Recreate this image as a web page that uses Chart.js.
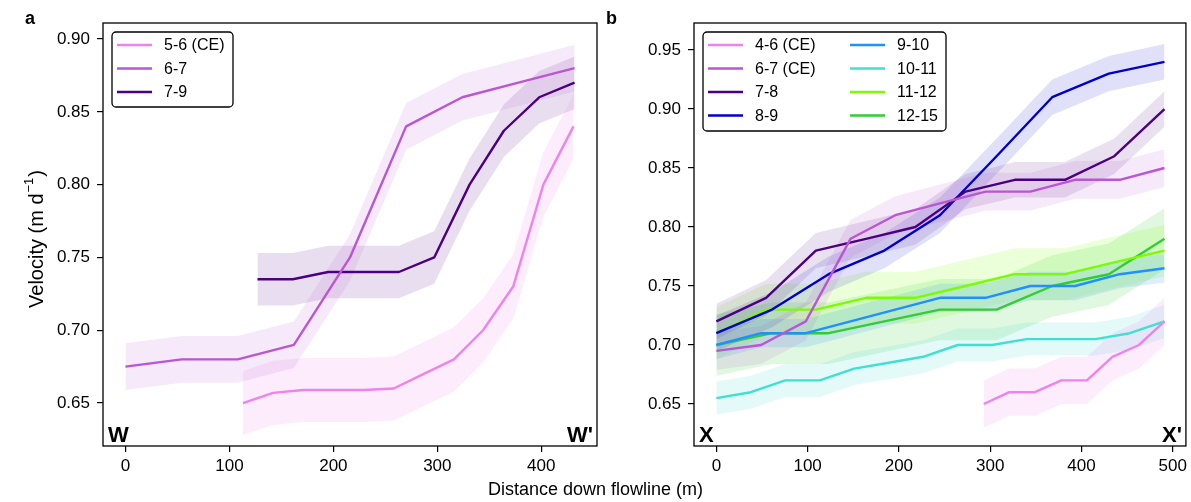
<!DOCTYPE html>
<html>
<head>
<meta charset="utf-8">
<script src="https://cdn.jsdelivr.net/npm/chart.js@4.4.0/dist/chart.umd.min.js"></script>
<style>
  html, body { margin: 0; padding: 0; background: #fff; }
  #wrap { position: relative; width: 1191px; height: 502px; overflow: hidden; }
  #chartA { position: absolute; left: 0; top: 0; }
  #chartB { position: absolute; left: 600px; top: 0; }
  #xtitle { position: absolute; left: 0; top: 479px; width: 1191px; text-align: center;
            font: 18px "Liberation Sans", Arial, sans-serif; line-height: 20px; color: #000; }
</style>
</head>
<body>
<div id="wrap">
  <canvas id="chartA" width="600" height="502"></canvas>
  <canvas id="chartB" width="591" height="502"></canvas>
  <div id="xtitle">Distance down flowline (m)</div>
</div>
<script>
// ---- panel a (W - W') ----
const distA56 = [113, 142, 171, 200, 229, 258, 287, 316, 344, 373, 402, 431];
const velA56  = [0.650, 0.657, 0.659, 0.659, 0.659, 0.660, 0.670, 0.680, 0.700, 0.730, 0.800, 0.840];
const distA67 = [0, 54, 108, 162, 216, 270, 324, 378, 432];
const velA67  = [0.675, 0.680, 0.680, 0.690, 0.750, 0.840, 0.860, 0.870, 0.880];
const distA79 = [127, 161, 195, 229, 263, 297, 331, 364, 398, 432];
const velA79  = [0.735, 0.735, 0.740, 0.740, 0.740, 0.750, 0.800, 0.837, 0.860, 0.870];
const labelsA = ['5-6 (CE)', '6-7', '7-9'];
const errA    = [0.022, 0.016, 0.018];   // half width of the shaded band

// ---- panel b (X - X') ----
const distB46   = [293, 321, 349, 378, 406, 434, 463, 491];
const velB46    = [0.650, 0.660, 0.660, 0.670, 0.670, 0.690, 0.700, 0.720];
const distB67   = [0, 49, 98, 147, 196, 245, 295, 344, 393, 442, 491];
const velB67    = [0.695, 0.700, 0.720, 0.790, 0.810, 0.820, 0.830, 0.830, 0.840, 0.840, 0.850];
const distB78   = [0, 54.5, 109, 164, 218, 273, 327, 382, 436, 491];
const velB78    = [0.720, 0.740, 0.780, 0.790, 0.800, 0.830, 0.840, 0.840, 0.860, 0.900];
const distB89   = [0, 61, 123, 184, 245, 307, 368, 430, 491];
const velB89    = [0.710, 0.730, 0.760, 0.780, 0.810, 0.860, 0.910, 0.930, 0.940];
const distB910  = [0, 49, 98, 147, 196, 245, 295, 344, 393, 442, 491];
const velB910   = [0.700, 0.710, 0.710, 0.720, 0.730, 0.740, 0.740, 0.750, 0.750, 0.760, 0.765];
const distB1011 = [0, 37.8, 75.5, 113.3, 151, 188.8, 226.6, 264.4, 302, 340, 377.7, 415.5, 453, 491];
const velB1011  = [0.655, 0.660, 0.670, 0.670, 0.680, 0.685, 0.690, 0.700, 0.700, 0.705, 0.705, 0.705, 0.710, 0.720];
const distB1112 = [0, 54.5, 109, 164, 218, 273, 327, 382, 436, 491];
const velB1112  = [0.710, 0.730, 0.730, 0.740, 0.740, 0.750, 0.760, 0.760, 0.770, 0.780];
const distB1215 = [0, 61, 123, 184, 245, 307, 368, 430, 491];
const velB1215  = [0.700, 0.710, 0.710, 0.720, 0.730, 0.730, 0.750, 0.760, 0.790];
const labelsB = ['4-6 (CE)', '6-7 (CE)', '7-8', '8-9', '9-10', '10-11', '11-12', '12-15'];
const errB    = [0.020, 0.016, 0.015, 0.015, 0.012, 0.014, 0.022, 0.026];

const ticksA = [0.65, 0.70, 0.75, 0.80, 0.85, 0.90];
const ticksB = [0.65, 0.70, 0.75, 0.80, 0.85, 0.90, 0.95];
const xTicksA = [0, 100, 200, 300, 400];
const xTicksB = [0, 100, 200, 300, 400, 500];

const colors = {
  violet: '#ee82ee', orchid: '#ba55d3', indigo: '#4b0082', blue: '#0000cd',
  dodger: '#1e90ff', turq: '#40e0d0', lawn: '#7cfc00', lime: '#32cd32'
};

function hexA(hex, a) {
  const n = parseInt(hex.slice(1), 16);
  return `rgba(${n >> 16},${(n >> 8) & 255},${n & 255},${a})`;
}

// lower edge, upper edge (filled to lower), then the line itself
function buildDatasets(series) {
  const out = [];
  series.forEach(s => {
    const lowIdx = out.length;
    out.push({
      data: s.dist.map((d, i) => ({ x: d, y: s.vel[i] - s.err })),
      borderWidth: 0, pointRadius: 0, fill: false, order: 2
    });
    out.push({
      data: s.dist.map((d, i) => ({ x: d, y: s.vel[i] + s.err })),
      borderWidth: 0, pointRadius: 0, fill: lowIdx, order: 2,
      backgroundColor: hexA(s.color, s.alpha || 0.15)
    });
    out.push({
      label: s.label,
      data: s.dist.map((d, i) => ({ x: d, y: s.vel[i] })),
      borderColor: s.color, borderWidth: 2.4, pointRadius: 0, fill: false, order: 1,
      borderJoinStyle: 'round'
    });
  });
  return out;
}

const seriesA = [
  { label: labelsA[0], dist: distA56, vel: velA56, err: errA[0], color: colors.violet, alpha: 0.15 },
  { label: labelsA[1], dist: distA67, vel: velA67, err: errA[1], color: colors.orchid, alpha: 0.13 },
  { label: labelsA[2], dist: distA79, vel: velA79, err: errA[2], color: colors.indigo, alpha: 0.13 }
];
const seriesB = [
  { label: labelsB[0], dist: distB46,   vel: velB46,   err: errB[0], color: colors.violet },
  { label: labelsB[1], dist: distB67,   vel: velB67,   err: errB[1], color: colors.orchid, alpha: 0.13 },
  { label: labelsB[2], dist: distB78,   vel: velB78,   err: errB[2], color: colors.indigo, alpha: 0.12 },
  { label: labelsB[3], dist: distB89,   vel: velB89,   err: errB[3], color: colors.blue,   alpha: 0.12 },
  { label: labelsB[4], dist: distB910,  vel: velB910,  err: errB[4], color: colors.dodger },
  { label: labelsB[5], dist: distB1011, vel: velB1011, err: errB[5], color: colors.turq },
  { label: labelsB[6], dist: distB1112, vel: velB1112, err: errB[6], color: colors.lawn },
  { label: labelsB[7], dist: distB1215, vel: velB1215, err: errB[7], color: colors.lime }
];

const FONT = '"Liberation Sans", Arial, sans-serif';

// box, corner letters, panel letter, legend and y title
const decor = {
  id: 'decor',
  afterDraw(chart, args, opts) {
    const ctx = chart.ctx;
    const a = chart.chartArea;
    ctx.save();
    ctx.strokeStyle = '#000';
    ctx.lineWidth = 1.3;
    ctx.strokeRect(a.left, a.top, a.right - a.left, a.bottom - a.top);

    ctx.fillStyle = '#000';
    ctx.font = 'bold 22px ' + FONT;
    ctx.textBaseline = 'alphabetic';
    ctx.textAlign = 'left';
    ctx.fillText(opts.corners[0], a.left + 5, a.bottom - 4);
    ctx.textAlign = 'right';
    ctx.fillText(opts.corners[1], a.right - 4, a.bottom - 4);

    ctx.font = 'bold 18px ' + FONT;
    ctx.textAlign = 'left';
    ctx.fillText(opts.panel, opts.panelX, 24);

    // legend
    const L = opts.legend;
    ctx.beginPath();
    ctx.roundRect(L.left, L.top, L.width, L.height, 4);
    ctx.fillStyle = 'rgba(255,255,255,0.85)';
    ctx.fill();
    ctx.lineWidth = 1.3;
    ctx.strokeStyle = '#000';
    ctx.stroke();
    ctx.font = '16px ' + FONT;
    ctx.textBaseline = 'middle';
    ctx.textAlign = 'left';
    L.items.forEach((it, i) => {
      const col = Math.floor(i / L.rows);
      const row = i % L.rows;
      const x0 = L.left + 5 + col * L.colWidth;
      const y = L.top + 13 + row * 23.5;
      ctx.strokeStyle = it.color;
      ctx.lineWidth = 2.5;
      ctx.beginPath();
      ctx.moveTo(x0, y);
      ctx.lineTo(x0 + 35, y);
      ctx.stroke();
      ctx.fillStyle = '#000';
      ctx.fillText(it.label, x0 + 47, y + 1);
    });

    if (opts.ytitle) {
      ctx.translate(43, 240);
      ctx.rotate(-Math.PI / 2);
      ctx.textBaseline = 'alphabetic';
      ctx.textAlign = 'left';
      const main = 'Velocity (m d';
      ctx.font = '20px ' + FONT;
      const w1 = ctx.measureText(main).width;
      ctx.font = '13px ' + FONT;
      const w2 = ctx.measureText('\u22121').width;
      ctx.font = '20px ' + FONT;
      const w3 = ctx.measureText(')').width;
      const x0 = -(w1 + w2 + w3) / 2;
      ctx.fillText(main, x0, 0);
      ctx.font = '13px ' + FONT;
      ctx.fillText('\u22121', x0 + w1 + 1, -10);
      ctx.font = '20px ' + FONT;
      ctx.fillText(')', x0 + w1 + w2 + 2, 0);
    }
    ctx.restore();
  }
};

function makeChart(id, series, cfg) {
  return new Chart(document.getElementById(id), {
    type: 'line',
    data: { datasets: buildDatasets(series) },
    options: {
      responsive: false,
      animation: false,
      events: [],
      layout: { padding: { left: 0, right: cfg.padRight, top: 23, bottom: 0 } },
      elements: { line: { tension: 0 } },
      scales: {
        x: {
          type: 'linear', min: cfg.xmin, max: cfg.xmax,
          afterBuildTicks: s => { s.ticks = cfg.xticks.map(v => ({ value: v })); },
          afterFit: s => { s.height = 56; },
          grid: { display: true, drawOnChartArea: false, tickLength: 6, color: '#000', lineWidth: 1.2 },
          border: { display: false },
          ticks: { color: '#000', font: { family: FONT, size: 17 }, padding: 4, maxRotation: 0 }
        },
        y: {
          type: 'linear', min: cfg.ymin, max: cfg.ymax,
          afterBuildTicks: s => { s.ticks = cfg.yticks.map(v => ({ value: v })); },
          afterFit: s => { s.width = cfg.yWidth; },
          grid: { display: true, drawOnChartArea: false, tickLength: 6, color: '#000', lineWidth: 1.2 },
          border: { display: false },
          ticks: { color: '#000', font: { family: FONT, size: 17 }, padding: 7,
                   callback: v => v.toFixed(2) }
        }
      },
      plugins: {
        legend: { display: false },
        tooltip: { enabled: false },
        decor: cfg.decor
      }
    },
    plugins: [decor]
  });
}

makeChart('chartA', seriesA, {
  xmin: -21.6, xmax: 453.6, ymin: 0.6205, ymax: 0.911,
  xticks: xTicksA, yticks: ticksA, yWidth: 103, padRight: 3,
  decor: {
    corners: ['W', "W'"], panel: 'a', panelX: 25, ytitle: true,
    legend: { left: 112, top: 32, width: 121, height: 75, rows: 3, colWidth: 0,
              items: seriesA.map(s => ({ label: s.label, color: s.color })) }
  }
});

makeChart('chartB', seriesB, {
  xmin: -24.5, xmax: 514.5, ymin: 0.6144, ymax: 0.9729,
  xticks: xTicksB, yticks: ticksB, yWidth: 94, padRight: 5,
  decor: {
    corners: ['X', "X'"], panel: 'b', panelX: 6, ytitle: false,
    legend: { left: 103, top: 32, width: 243, height: 99, rows: 4, colWidth: 142,
              items: seriesB.map(s => ({ label: s.label, color: s.color })) }
  }
});
</script>
</body>
</html>
